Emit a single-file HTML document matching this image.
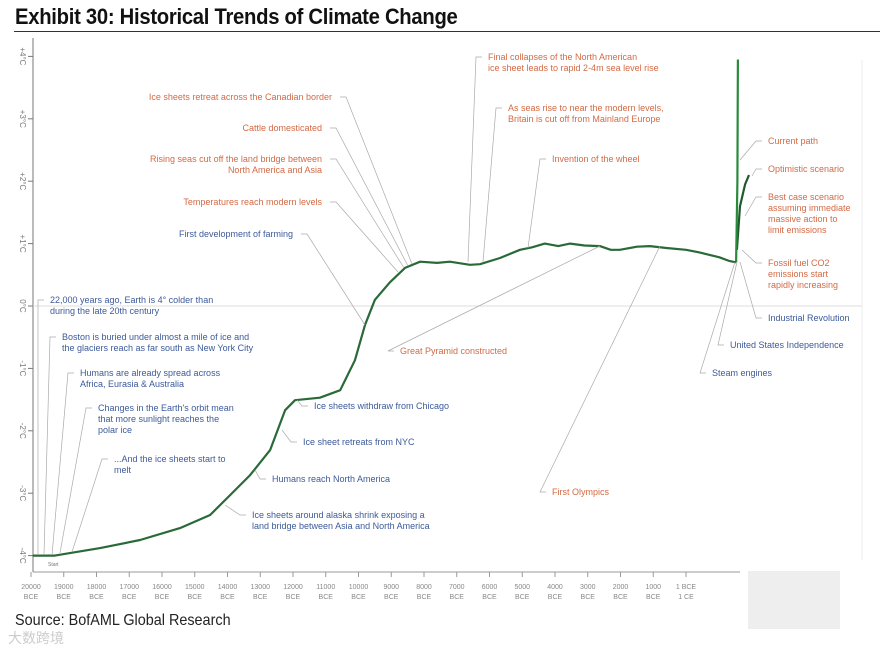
<!DOCTYPE html>
<html><head><meta charset="utf-8"><style>
html,body{margin:0;padding:0;background:#fff;}
body{width:894px;height:652px;overflow:hidden;position:relative;font-family:"Liberation Sans",sans-serif;}
#title{position:absolute;left:15px;top:4px;font-size:22px;font-weight:bold;color:#111;letter-spacing:-0.3px;transform:scaleX(0.92);transform-origin:left;}
#rule{position:absolute;left:14px;top:31px;width:866px;height:1px;background:#333;}
#source{position:absolute;left:15px;top:612px;font-size:16px;color:#222;transform:scaleX(0.9);transform-origin:left;}
#wm{position:absolute;left:8px;top:628px;font-size:14px;color:#ccc;font-family:"Liberation Sans","Noto Sans CJK SC",sans-serif;}
svg text{font-family:"Liberation Sans",sans-serif;}
</style></head><body>
<div id="title">Exhibit 30: Historical Trends of Climate Change</div>
<div id="rule"></div>
<svg id="chart" width="894" height="652" style="position:absolute;left:0;top:0"></svg>
<div id="source">Source: BofAML Global Research</div>
<div id="wm">大数跨境</div>
<div style="position:absolute;left:748px;top:571px;width:92px;height:58px;background:#eee;"></div>
<script>
const years=[-19950,-19270,-17890,-16670,-15450,-14530,-13920,-13310,-12700,-12240,-11940,-11180,-10560,-10110,-9800,-9500,-9040,-8580,-8120,-7600,-7210,-6600,-6290,-5680,-5070,-4700,-4310,-3900,-3540,-3100,-2630,-2300,-2020,-1500,-1100,-600,0,500,900,1300,1700,1950];
const temps=[-4.0,-4.0,-3.88,-3.75,-3.56,-3.35,-3.03,-2.71,-2.31,-1.67,-1.51,-1.47,-1.35,-0.87,-0.30,0.10,0.38,0.61,0.71,0.69,0.71,0.66,0.67,0.77,0.90,0.94,1.00,0.96,1.00,0.97,0.96,0.90,0.90,0.95,0.96,0.93,0.90,0.86,0.82,0.78,0.72,0.70];
const currentYears=[1950,2000,2020];
const currentTemps=[0.70,2.0,3.95];
const optimYears=[1980,2100,2300,2450];
const optimTemps=[0.9,1.6,1.95,2.1];
const yTicks=[4,3,2,1,0,-1,-2,-3,-4];
const yLabels=["+4°C","+3°C","+2°C","+1°C","0°C","-1°C","-2°C","-3°C","-4°C"];
const xTicks=[-20000,-19000,-18000,-17000,-16000,-15000,-14000,-13000,-12000,-11000,-10000,-9000,-8000,-7000,-6000,-5000,-4000,-3000,-2000,-1000,0];
const xLabels=["20000","19000","18000","17000","16000","15000","14000","13000","12000","11000","10000","9000","8000","7000","6000","5000","4000","3000","2000","1000","1 BCE"];
const xSub=["BCE","BCE","BCE","BCE","BCE","BCE","BCE","BCE","BCE","BCE","BCE","BCE","BCE","BCE","BCE","BCE","BCE","BCE","BCE","BCE","1 CE"];

const X=y=> y<=0 ? 31+(y+20000)/20000*655 : 686+y/2100*54;
const Y=t=> 306-t*62.4;
const svg=document.getElementById('chart');
const NS='http://www.w3.org/2000/svg';
function mk(tag,attrs){const e=document.createElementNS(NS,tag);for(const k in attrs)e.setAttribute(k,attrs[k]);svg.appendChild(e);return e;}

let e=mk('line',{x1:33,y1:38,x2:33,y2:572,stroke:'#777','stroke-width':1});


e=mk('line',{x1:33,y1:572,x2:740,y2:572,stroke:'#999','stroke-width':1});


e=mk('line',{x1:33,y1:Y(0),x2:862,y2:Y(0),stroke:'#ddd','stroke-width':1});


e=mk('line',{x1:862,y1:60,x2:862,y2:560,stroke:'#eee','stroke-width':1});



yTicks.forEach((t,i)=>{
  let l=mk('line',{x1:28,y1:Y(t),x2:33,y2:Y(t),stroke:'#777'});
  
  
  let tx=mk('text',{x:0,y:0,'font-size':8,fill:'#777','text-anchor':'middle',transform:`translate(20,${Y(t)}) rotate(90)`});
  tx.textContent=yLabels[i];
  
  
});
xTicks.forEach((v,i)=>{
  let l=mk('line',{x1:X(v),y1:572,x2:X(v),y2:577,stroke:'#999'});
  
  
  let tx=mk('text',{x:X(v),y:589,'font-size':7,fill:'#888','text-anchor':'middle'});
  tx.textContent=xLabels[i];
  
  
  let t2=mk('text',{x:X(v),y:599,'font-size':7,fill:'#888','text-anchor':'middle'});
  t2.textContent=xSub[i];
  
  
});
e=mk('text',{x:48,y:566,'font-size':5,fill:'#777'});e.textContent='Start';



function path(xs,ts){return xs.map((y,i)=>(i?'L':'M')+X(y).toFixed(1)+','+Y(ts[i]).toFixed(1)).join(' ');}
e=mk('path',{d:path(optimYears,optimTemps),fill:'none',stroke:'#1f5a2c','stroke-width':2.2});


e=mk('path',{d:path(currentYears,currentTemps),fill:'none',stroke:'#2a8a3c','stroke-width':2.2});


e=mk('path',{d:path(years,temps),fill:'none',stroke:'#2a6a38','stroke-width':2.2,'stroke-linejoin':'round'});



const BLUE='#3c5a9a',OR='#d46a45';
const notes=[
 {t:["Ice sheets retreat across the Canadian border"],x:332,y:100,c:OR,a:'end',px:412,py:264},
 {t:["Cattle domesticated"],x:322,y:131,c:OR,a:'end',px:408,py:266},
 {t:["Rising seas cut off the land bridge between","North America and Asia"],x:322,y:162,c:OR,a:'end',px:404,py:268},
 {t:["Temperatures reach modern levels"],x:322,y:205,c:OR,a:'end',px:398,py:272},
 {t:["First development of farming"],x:293,y:237,c:BLUE,a:'end',px:365,py:325},
 {t:["22,000 years ago, Earth is 4° colder than","during the late 20th century"],x:50,y:303,c:BLUE,a:'start',px:38,py:555},
 {t:["Boston is buried under almost a mile of ice and","the glaciers reach as far south as New York City"],x:62,y:340,c:BLUE,a:'start',px:44,py:555},
 {t:["Humans are already spread across","Africa, Eurasia & Australia"],x:80,y:376,c:BLUE,a:'start',px:52,py:555},
 {t:["Changes in the Earth's orbit mean","that more sunlight reaches the","polar ice"],x:98,y:411,c:BLUE,a:'start',px:60,py:553},
 {t:["...And the ice sheets start to","melt"],x:114,y:462,c:BLUE,a:'start',px:72,py:552},
 {t:["Ice sheets withdraw from Chicago"],x:314,y:409,c:BLUE,a:'start',px:297,py:400},
 {t:["Ice sheet retreats from NYC"],x:303,y:445,c:BLUE,a:'start',px:282,py:430},
 {t:["Humans reach North America"],x:272,y:482,c:BLUE,a:'start',px:255,py:470},
 {t:["Ice sheets around alaska shrink exposing a","land bridge between Asia and North America"],x:252,y:518,c:BLUE,a:'start',px:225,py:505},
 {t:["Final collapses of the North American","ice sheet leads to rapid 2-4m sea level rise"],x:488,y:60,c:OR,a:'start',px:468,py:262},
 {t:["As seas rise to near the modern levels,","Britain is cut off from Mainland Europe"],x:508,y:111,c:OR,a:'start',px:483,py:262},
 {t:["Invention of the wheel"],x:552,y:162,c:OR,a:'start',px:528,py:248},
 {t:["Great Pyramid constructed"],x:400,y:354,c:OR,a:'start',px:600,py:246},
 {t:["First Olympics"],x:552,y:495,c:OR,a:'start',px:660,py:246},
 {t:["Current path"],x:768,y:144,c:OR,a:'start',px:740,py:160},
 {t:["Optimistic scenario"],x:768,y:172,c:OR,a:'start',px:752,py:176},
 {t:["Best case scenario","assuming immediate","massive action to","limit emissions"],x:768,y:200,c:OR,a:'start',px:745,py:216},
 {t:["Fossil fuel CO2","emissions start","rapidly increasing"],x:768,y:266,c:OR,a:'start',px:742,py:250},
 {t:["Industrial Revolution"],x:768,y:321,c:BLUE,a:'start',px:740,py:262},
 {t:["United States Independence"],x:730,y:348,c:BLUE,a:'start',px:737,py:262},
 {t:["Steam engines"],x:712,y:376,c:BLUE,a:'start',px:735,py:262}
];
notes.forEach(n=>{
  const w=n.a==='end'?n.x+8:n.x-6;
  let l=mk('polyline',{points:`${w},${n.y-3} ${w+(n.a==='end'?6:-6)},${n.y-3} ${n.px},${n.py}`,fill:'none',stroke:'#aaa','stroke-width':0.7});
  
  
  n.t.forEach((s,i)=>{
    let tx=mk('text',{x:n.x,y:n.y+i*11,'font-size':9,fill:n.c,'text-anchor':n.a});
    tx.textContent=s;
    
    
  });
});
</script>
</body></html>
